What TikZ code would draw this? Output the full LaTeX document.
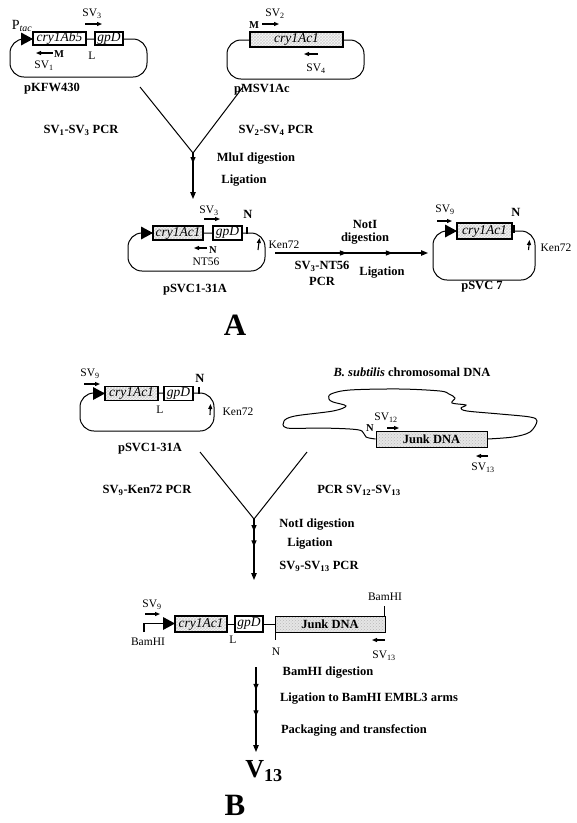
\documentclass[tikz,border=0pt]{standalone}
\usepackage{fontspec}
\setmainfont{Liberation Serif}
\usetikzlibrary{arrows.meta,patterns,decorations.markings,calc}
\newcommand\promtri[1]{\fill (#1) ++(-12,-6.5) -- ++(12,6.5) -- ++(-12,6.5) -- cycle;}
\begin{document}
\begin{tikzpicture}[x=1pt,y=-1pt,
  lbl/.style={font=\fontsize{12.5}{14}\selectfont\bfseries, inner sep=0},
  sm/.style={font=\fontsize{11.5}{13}\selectfont, inner sep=0},
  big/.style={font=\fontsize{31}{31}\selectfont\bfseries, inner sep=0},
  gene/.style={draw, line width=1.8pt, fill=white, inner sep=0, font=\fontsize{13.5}{13}\selectfont\itshape},
  hatch/.style={draw, line width=1.8pt, inner sep=0, font=\fontsize{13.5}{13}\selectfont\itshape,
     preaction={fill=gray!6}, pattern=crosshatch, pattern color=gray!35},
  junk/.style={draw, line width=1pt, inner sep=0, font=\fontsize{12.5}{13}\selectfont\bfseries,
     preaction={fill=gray!20}, pattern=crosshatch dots, pattern color=gray!55},
  plasmid/.style={draw, line width=1pt, rounded corners=14pt, inner sep=0},
  primer/.style={line width=1.1pt, -{Triangle[length=5pt,width=4pt]}},
  flow/.style={line width=1.1pt, -{Triangle[length=7pt,width=5.5pt]}},
  tick/.style={line width=1.3pt},
  vline/.style={line width=1pt}
]
\useasboundingbox (0,0) rectangle (577,823);

% ================= Panel A =================
% pKFW430
\node[plasmid, minimum width=137pt, minimum height=38pt] (p1) at (78.5,58) {};
\promtri{33,39}
\node[gene, minimum width=53pt, minimum height=13pt] (g1) at (59.5,38.5) {cry1Ab5};
\node[gene, minimum width=28pt, minimum height=13pt] (g2) at (109,38.5) {gpD};
\node[font=\fontsize{14}{14}\selectfont, inner sep=0] (ptac) at (22,26) {P\textsubscript{\itshape tac}};
\node[sm] (t1) at (92,14) {SV\textsubscript{3}};
\draw[primer] (85,24) -- (102,24);
\draw[primer] (53,53) -- (36,53);
\node[font=\fontsize{10.5}{10}\selectfont\bfseries, inner sep=0] (t2) at (59,54) {M};
\node[sm] (t3) at (44,66) {SV\textsubscript{1}};
\node[sm] (t4) at (92,56) {L};
\node[lbl] (n1) at (52,89) {pKFW430};

% pMSV1Ac
\node[plasmid, minimum width=137pt, minimum height=39pt] (p2) at (295.5,59.5) {};
\node[hatch, minimum width=93pt, minimum height=15pt] (g3) at (296.5,39.5) {cry1Ac1};
\node[font=\fontsize{10.5}{10}\selectfont\bfseries, inner sep=0] (t5) at (254,25) {M};
\draw[primer] (262,24) -- (279,24);
\node[sm] (t6) at (275,14) {SV\textsubscript{2}};
\draw[primer] (318,54) -- (304,54);
\node[sm] (t7) at (316,69) {SV\textsubscript{4}};
\node[lbl] (n2) at (262,90) {pMSV1Ac};

% V merge A
\coordinate (va1) at (140,87);
\coordinate (va2) at (243,87);
\coordinate (va) at (193,153);
\coordinate (vaend) at (193,199);
\draw[vline] (va1) -- (va) -- (va2);
\draw[flow, postaction={decorate}, decoration={markings, mark=at position 0.22 with {\arrow{Triangle[length=6pt,width=5pt]}}}] (va) -- (vaend);
\node[lbl] (t8) at (81,130) {SV\textsubscript{1}-SV\textsubscript{3} PCR};
\node[lbl] (t9) at (276,130) {SV\textsubscript{2}-SV\textsubscript{4} PCR};
\node[lbl] (t10) at (256,159) {MluI digestion};
\node[lbl] (t11) at (244,181) {Ligation};

% pSVC1-31A (A)
\node[plasmid, minimum width=137pt, minimum height=38pt] (p3) at (196.5,252) {};
\promtri{153,233}
\node[hatch, minimum width=50pt, minimum height=14pt] (g4) at (178,233) {cry1Ac1};
\node[gene, minimum width=29pt, minimum height=14pt] (g5) at (227.5,233) {gpD};
\draw[tick] (247,227) -- (247,234);
\node[lbl] (t12) at (248,214) {N};
\node[sm] (t13) at (209,211) {SV\textsubscript{3}};
\draw[primer] (204,219) -- (220,219);
\draw[primer] (207,248) -- (194,248);
\node[font=\fontsize{10.5}{10}\selectfont\bfseries, inner sep=0] (t14) at (213,250) {N};
\node[sm] (t15) at (206,262) {NT56};
\draw[primer] (258,250) -- (259.5,238);
\node[sm] (t16) at (284,245) {Ken72};
\node[lbl] (n3) at (195,290) {pSVC1-31A};

% horizontal arrow A
\coordinate (ha) at (275,253);
\coordinate (hb) at (428,253);
\draw[flow, postaction={decorate}, decoration={markings,
   mark=at position 0.47 with {\arrow{Triangle[length=7pt,width=5pt]}},
   mark=at position 0.77 with {\arrow{Triangle[length=7pt,width=5pt]}}}] (ha) -- (hb);
\node[lbl] (t17) at (365,224) {NotI};
\node[lbl] (t18) at (365,239) {digestion};
\node[lbl] (t19) at (322,266) {SV\textsubscript{3}-NT56};
\node[lbl] (t20) at (322,281) {PCR};
\node[lbl] (t21) at (382,273) {Ligation};

% pSVC 7
\node[plasmid, minimum width=102pt, minimum height=49pt] (p4) at (484,255.5) {};
\promtri{457,231}
\node[hatch, minimum width=55pt, minimum height=16pt] (g6) at (484.5,231) {cry1Ac1};
\draw[tick] (514,225) -- (514,233);
\node[lbl] (t22) at (516,212) {N};
\node[sm] (t23) at (445,210) {SV\textsubscript{9}};
\draw[primer] (437,221) -- (452,221);
\draw[primer] (528.5,250) -- (529.5,240);
\node[sm] (t24) at (556,248) {Ken72};
\node[lbl] (n4) at (482,287) {pSVC 7};

\node[big] (A) at (235,325) {A};

% ================= Panel B =================
% pSVC1-31A (B)
\node[plasmid, minimum width=134pt, minimum height=38pt] (p5) at (147,412) {};
\promtri{105,393.5}
\node[hatch, minimum width=53pt, minimum height=14pt] (g7) at (131.5,393.5) {cry1Ac1};
\node[gene, minimum width=29pt, minimum height=14pt] (g8) at (178.5,393.5) {gpD};
\node[sm] (t25) at (160,410) {L};
\draw[tick] (199,387) -- (199,394);
\node[lbl] (t26) at (200,378) {N};
\node[sm] (t27) at (90,374) {SV\textsubscript{9}};
\draw[primer] (84,384) -- (100,384);
\draw[primer] (210,415) -- (210.5,404);
\node[sm] (t28) at (238,412) {Ken72};
\node[lbl] (n5) at (150,449) {pSVC1-31A};

% B. subtilis
\node[lbl] (t29) at (412,372) {\textit{B. subtilis} chromosomal DNA};
\node[junk, minimum width=111pt, minimum height=16pt] (j1) at (431.5,439) {Junk DNA};
\draw[line width=1pt] plot[smooth, tension=0.55] coordinates {(j1.east) (513,437) (530,432) (537,421) (530,417) (500,414) (467,411) (461,408) (466,405) (452,403) (455,398) (449,394) (440,391) (400,389) (350,390) (331,394) (329,399) (333,402) (346,406) (333,411) (295,416) (284,421) (287,428) (320,428) (350,429) (362,431) (366,437) (j1.west)};
\node[font=\fontsize{10.5}{10}\selectfont\bfseries, inner sep=0] (t30) at (370,428) {N};
\draw[primer] (387,428) -- (399,428);
\node[sm] (t31) at (386,418) {SV\textsubscript{12}};
\draw[primer] (488,456) -- (476,456);
\node[sm] (t32) at (483,468) {SV\textsubscript{13}};

% V merge B
\coordinate (vb1) at (200,452);
\coordinate (vb2) at (307,452);
\coordinate (vb) at (254,519);
\coordinate (vbend) at (254,580);
\draw[vline] (vb1) -- (vb) -- (vb2);
\draw[flow, postaction={decorate}, decoration={markings,
   mark=at position 0.2 with {\arrow{Triangle[length=6pt,width=5pt]}},
   mark=at position 0.45 with {\arrow{Triangle[length=6pt,width=5pt]}}}] (vb) -- (vbend);
\node[lbl] (t33) at (147,490) {SV\textsubscript{9}-Ken72 PCR};
\node[lbl] (t34) at (359,490) {PCR SV\textsubscript{12}-SV\textsubscript{13}};
\node[lbl] (t35) at (317,525) {NotI digestion};
\node[lbl] (t36) at (310,544) {Ligation};
\node[lbl] (t37) at (319,566) {SV\textsubscript{9}-SV\textsubscript{13} PCR};

% linear construct
\node[hatch, minimum width=52pt, minimum height=16pt] (g9) at (201,624) {cry1Ac1};
\node[gene, minimum width=28pt, minimum height=16pt] (g10) at (249,624) {gpD};
\node[junk, minimum width=110pt, minimum height=16pt] (j2) at (330,624) {Junk DNA};
\draw[line width=1pt] (g9) -- (g10);
\draw[line width=1pt] (g10) -- (j2);
\coordinate (bam) at (144,632);
\draw[line width=1.3pt] (bam) -- (144,623.5) -- (163,623.5);
\promtri{175,623.5}
\node[sm] (t38) at (148,642) {BamHI};
\node[sm] (t39) at (152,605) {SV\textsubscript{9}};
\draw[primer] (145,614) -- (160,614);
\node[sm] (t40) at (233,640) {L};
\draw[tick] (275.5,632) -- (275.5,640);
\node[sm] (t41) at (276,652) {N};
\draw[line width=1pt] (384.5,616) -- (384.5,606);
\node[sm] (t42) at (385,597) {BamHI};
\draw[primer] (385,640) -- (372,640);
\node[sm] (t43) at (384,656) {SV\textsubscript{13}};

\coordinate (bs) at (256,667);
\coordinate (be) at (256,752);
\draw[flow, postaction={decorate}, decoration={markings,
   mark=at position 0.27 with {\arrow{Triangle[length=6pt,width=5pt]}},
   mark=at position 0.58 with {\arrow{Triangle[length=6pt,width=5pt]}}}] (bs) -- (be);
\node[lbl] (t44) at (328,673) {BamHI digestion};
\node[lbl] (t45) at (369,699) {Ligation to BamHI EMBL3 arms};
\node[lbl] (t46) at (354,730) {Packaging and transfection};

\node[font=\fontsize{26}{26}\selectfont\bfseries, inner sep=0] (v13) at (264,771) {V\textsubscript{13}};
\node[big] (B) at (235,805) {B};
\end{tikzpicture}
\end{document}
